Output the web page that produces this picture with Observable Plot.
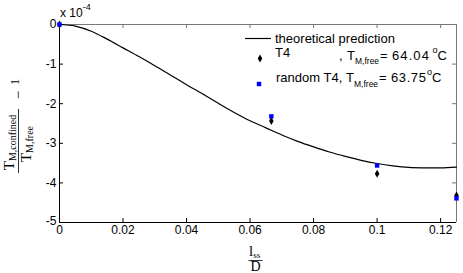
<!DOCTYPE html>
<html>
<head>
<meta charset="utf-8">
<script src="https://cdn.jsdelivr.net/npm/d3@7"></script>
<script src="https://cdn.jsdelivr.net/npm/@observablehq/plot@0.6"></script>
<style>
  html, body { margin: 0; padding: 0; background: #fff; }
  #chart { width: 463px; height: 273px; overflow: hidden; }
</style>
</head>
<body>
<div id="chart"></div>
<script>
// ---- data ----
const xTicks = [0, 0.02, 0.04, 0.06, 0.08, 0.1, 0.12];
const yTicks = [0, -1, -2, -3, -4, -5];

const theoryX = [0, 0.005, 0.01, 0.015, 0.02, 0.025, 0.03, 0.035, 0.04, 0.045, 0.05, 0.055, 0.06, 0.065, 0.07, 0.075, 0.08, 0.085, 0.09, 0.095, 0.1, 0.105, 0.11, 0.115, 0.12, 0.125];
const theoryY = [0, -0.04, -0.17, -0.37, -0.59, -0.81, -1.04, -1.28, -1.52, -1.75, -1.99, -2.22, -2.43, -2.61, -2.79, -2.95, -3.09, -3.22, -3.33, -3.43, -3.51, -3.57, -3.61, -3.62, -3.62, -3.60];

const t4X = [0, 0.0667, 0.1, 0.125];
const t4Y = [0, -2.44, -3.77, -4.32];

const rndX = [0, 0.0667, 0.1, 0.125];
const rndY = [0, -2.32, -3.56, -4.39];

const seriesLabels = ["theoretical prediction", "T4", "random T4,"];
const tmFree = ["64.04", "63.75"];

// ---- tables ----
const theory = theoryX.map((x, i) => ({x, y: theoryY[i]}));
const t4 = t4X.map((x, i) => ({x, y: t4Y[i]}));
const rnd = rndX.map((x, i) => ({x, y: rndY[i]}));

const W = 463, H = 273;
const mL = 59, mR = 7, mT = 24, mB = 51;
const pw = W - mL - mR, ph = H - mT - mB;
const tick = 4;

const chart = Plot.plot({
  width: W, height: H,
  marginLeft: mL, marginRight: mR, marginTop: mT, marginBottom: mB,
  style: {fontFamily: "'Liberation Sans', Arial, sans-serif", fontSize: "12px", background: "#fff", color: "#000"},
  x: {domain: [0, 0.125]},
  y: {domain: [-5, 0]},
  marks: [
    Plot.axisX(xTicks, {tickSize: 0, tickPadding: 3, tickFormat: d => String(d), label: null, fontSize: 12}),
    Plot.axisY(yTicks, {tickSize: 0, tickPadding: 3, tickFormat: d => String(d), label: null, fontSize: 12}),
    // box
    Plot.ruleX([0.125], {stroke: "#777"}),
    Plot.ruleY([0], {stroke: "#777"}),
    // inward ticks
    Plot.tickX(xTicks, {x: d => d, insetTop: ph - tick, stroke: "#000"}),
    Plot.tickX(xTicks, {x: d => d, insetBottom: ph - tick, stroke: "#777"}),
    Plot.tickY(yTicks, {y: d => d, insetRight: pw - tick, stroke: "#000"}),
    Plot.tickY(yTicks, {y: d => d, insetLeft: pw - tick, stroke: "#777"}),
    Plot.ruleX([0], {stroke: "#000"}),
    Plot.ruleY([-5], {stroke: "#000"}),
    Plot.line(theory, {x: "x", y: "y", stroke: "#000", strokeWidth: 1.2, curve: "catmull-rom"}),
    Plot.dot(t4, {x: "x", y: "y", symbol: "diamond", fill: "#000", stroke: "none", r: 2.4}),
    Plot.dot(rnd, {x: "x", y: "y", symbol: "square", fill: "#0000ff", stroke: "none", r: 2.5})
  ]
});
document.getElementById("chart").appendChild(chart);

const svg = d3.select(chart);

// raise the bottom y tick label slightly, as in the reference
svg.selectAll("g[aria-label='y-axis tick label'] text").each(function() {
  if (this.textContent === "-5") d3.select(this).attr("dy", "-0.14em");
});

const sans = "'Liberation Sans', Arial, sans-serif";
const serif = "'Liberation Serif', 'DejaVu Serif', serif";

// exponent note
const ex = svg.append("text").attr("text-anchor", "start").attr("font-family", sans).attr("font-size", 12).attr("x", 60).attr("y", 17);
ex.append("tspan").text("x 10");
ex.append("tspan").attr("font-size", 9).attr("dy", -7).text("-4");

// x label: l_ss / D
const xl = svg.append("g").attr("font-family", serif).attr("fill", "#000").attr("text-anchor", "start");
const num = xl.append("text").attr("x", 249).attr("y", 256).attr("font-size", 15);
num.append("tspan").text("l");
num.append("tspan").attr("font-size", 9).attr("dy", 2).text("ss");
xl.append("line").attr("x1", 248.5).attr("x2", 262.5).attr("y1", 260.5).attr("y2", 260.5).attr("stroke", "#000").attr("stroke-width", 0.8);
xl.append("text").attr("x", 255.5).attr("y", 271).attr("font-size", 14).attr("text-anchor", "middle").text("D");

// y label: T_M,confined / T_M,free - 1  (rotated)
const yl = svg.append("g").attr("font-family", serif).attr("fill", "#000")
  .attr("transform", "translate(18.5,141) rotate(-90)");
const yn = yl.append("text").attr("x", -1.5).attr("y", -5).attr("text-anchor", "middle").attr("font-size", 15);
yn.append("tspan").text("T");
yn.append("tspan").attr("font-size", 10).attr("dy", 2.5).text("M,confined");
const yd = yl.append("text").attr("x", -3).attr("y", 12).attr("text-anchor", "middle").attr("font-size", 15);
yd.append("tspan").text("T");
yd.append("tspan").attr("font-size", 10).attr("dy", 2.5).text("M,free");
yl.append("line").attr("x1", -32).attr("x2", 32).attr("y1", 0).attr("y2", 0).attr("stroke", "#000").attr("stroke-width", 0.8);
yl.append("text").attr("x", 46).attr("y", 4.5).attr("text-anchor", "middle").attr("font-size", 15).text("\u2212");
yl.append("text").attr("x", 59).attr("y", 0.5).attr("text-anchor", "middle").attr("font-size", 13).text("1");

// legend
const lg = svg.append("g").attr("font-family", sans).attr("font-size", 13).attr("fill", "#000").attr("text-anchor", "start");
lg.append("line").attr("x1", 245).attr("x2", 271).attr("y1", 38.5).attr("y2", 38.5).attr("stroke", "#000").attr("stroke-width", 1.2);
lg.append("text").attr("x", 275).attr("y", 42.5).text(seriesLabels[0]);

lg.append("path").attr("transform", "translate(260,58.5)")
  .attr("d", d3.symbol(d3.symbolDiamond, 2.4 * 2.4 * Math.PI)()).attr("fill", "#000");
lg.append("text").attr("x", 275).attr("y", 57).text(seriesLabels[1]);
const r2 = lg.append("text").attr("y", 60);
r2.append("tspan").attr("x", 339).text(",");
r2.append("tspan").attr("x", 347).text("T");
r2.append("tspan").attr("x", 355).attr("font-size", 8.5).attr("dy", 4).text("M,free");
r2.append("tspan").attr("x", 380).attr("dy", -4).text("=");
r2.append("tspan").attr("x", 392).attr("letter-spacing", 1.1).text(tmFree[0]);
r2.append("tspan").attr("x", 432.5).attr("font-size", 9).attr("dy", -7).text("o");
r2.append("tspan").attr("x", 437.5).attr("dy", 7).text("C");

lg.append("path").attr("transform", "translate(259,84)")
  .attr("d", d3.symbol(d3.symbolSquare, 2.5 * 2.5 * Math.PI)()).attr("fill", "#0000ff");
const r3 = lg.append("text").attr("y", 82);
r3.append("tspan").attr("x", 276).text(seriesLabels[2]);
r3.append("tspan").attr("x", 346).text("T");
r3.append("tspan").attr("x", 354).attr("font-size", 8.5).attr("dy", 5).text("M,free");
r3.append("tspan").attr("x", 379).attr("dy", -5).text("=");
r3.append("tspan").attr("x", 391).attr("letter-spacing", 0.6).text(tmFree[1]);
r3.append("tspan").attr("x", 427).attr("font-size", 9).attr("dy", -7).text("o");
r3.append("tspan").attr("x", 432).attr("dy", 7).text("C");
</script>
</body>
</html>
